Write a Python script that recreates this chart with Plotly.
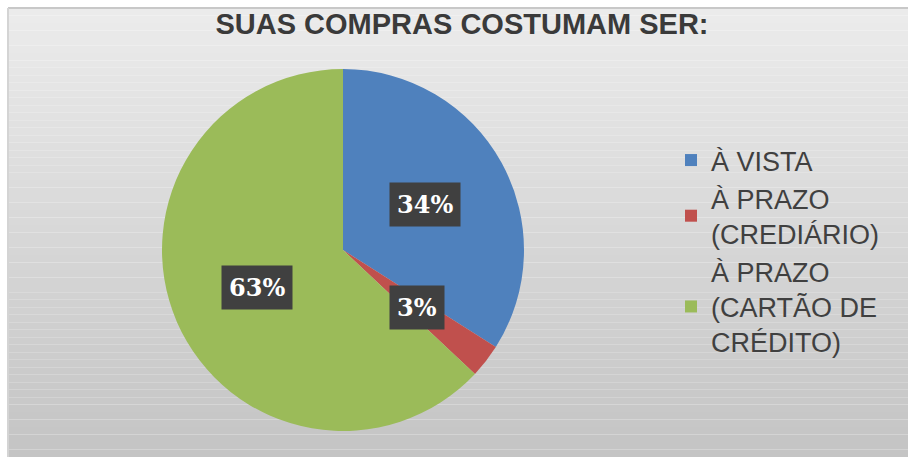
import numpy as np
import plotly.graph_objects as go

# --- data ---
categories = ["À VISTA", "À PRAZO<br>(CREDIÁRIO)", "À PRAZO<br>(CARTÃO DE<br>CRÉDITO)"]
shares = [34, 3, 63]
slice_colors = ["#4F81BD", "#C0504D", "#9BBB59"]
title_text = "SUAS COMPRAS COSTUMAM SER:"

W, H = 908, 457
# pie placement in pixels
cx, cy, r = 343, 250, 181

fig = go.Figure()
fig.add_trace(go.Pie(
    labels=categories,
    values=shares,
    marker=dict(colors=slice_colors, line=dict(width=0)),
    sort=False,
    direction="clockwise",
    rotation=0,
    textinfo="none",
    hoverinfo="label+percent",
    domain=dict(x=[(cx - r) / W, (cx + r) / W], y=[1 - (cy + r) / H, 1 - (cy - r) / H]),
))

# gray gradient panel (white strip at top and left)
shapes = []
top, left = 8, 8
n = 60
c0 = np.array([236, 236, 236])
c1 = np.array([196, 196, 196])
for i in range(n):
    y0 = top + (H - top) * i / n
    y1 = top + (H - top) * (i + 1) / n
    c = (c0 + (c1 - c0) * (i + 0.5) / n).astype(int)
    shapes.append(dict(type="rect", xref="paper", yref="paper", layer="below",
                       x0=left / W, x1=1, y0=1 - y1 / H, y1=1 - y0 / H,
                       fillcolor=f"rgb({c[0]},{c[1]},{c[2]})", line=dict(width=0)))
shapes.append(dict(type="line", xref="paper", yref="paper", layer="below",
                   x0=left / W, x1=1, y0=1 - top / H, y1=1 - top / H,
                   line=dict(color="#c8c8c8", width=2)))
shapes.append(dict(type="line", xref="paper", yref="paper", layer="below",
                   x0=left / W, x1=left / W, y0=0, y1=1 - top / H,
                   line=dict(color="#d4d4d4", width=2)))

# percentage labels placed along each slice's mid-angle
total = float(sum(shares))
cum = np.cumsum([0] + shares[:-1])
annotations = []
for v, c0v in zip(shares, cum):
    mid = (c0v + v / 2) / total * 2 * np.pi
    px = cx + 0.52 * r * np.sin(mid)
    py = cy - 0.52 * r * np.cos(mid)
    annotations.append(dict(
        x=px / W, y=1 - py / H, xref="paper", yref="paper",
        text=f"<b>{round(v / total * 100)}%</b>", showarrow=False,
        font=dict(family="DejaVu Serif", size=24, color="white"),
        bgcolor="#404040", borderpad=7, xanchor="center", yanchor="middle",
    ))

fig.update_layout(
    width=W, height=H,
    margin=dict(l=0, r=0, t=0, b=0),
    paper_bgcolor="white",
    plot_bgcolor="rgba(0,0,0,0)",
    shapes=shapes,
    annotations=annotations,
    title=dict(text=f"<b>{title_text}</b>", x=462 / W, y=1 - 24 / H,
               xanchor="center", yanchor="middle",
               font=dict(family="Liberation Sans, Arial", size=29, color="#3a3a3a")),
    legend=dict(x=671 / W, y=1 - 251 / H, xanchor="left", yanchor="middle",
                font=dict(family="Liberation Sans, Arial", size=27, color="#404040"),
                bgcolor="rgba(0,0,0,0)", itemwidth=30, tracegroupgap=0),
    showlegend=True,
)

fig.write_html("out.html")
